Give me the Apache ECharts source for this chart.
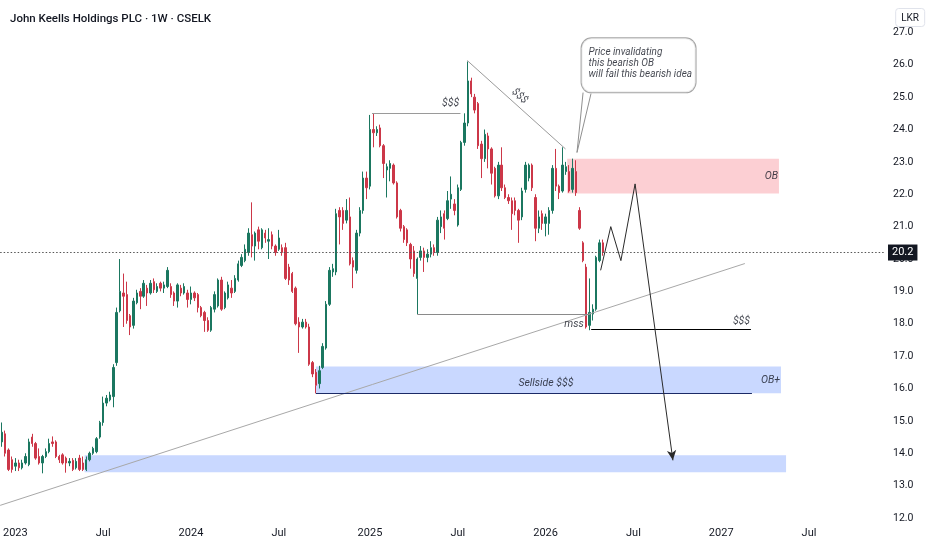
<!DOCTYPE html>
<html>
<head>
<meta charset="utf-8">
<script src="https://cdn.jsdelivr.net/npm/echarts@6/dist/echarts.min.js"></script>
<style>html,body{margin:0;padding:0;background:#fff}#c{width:932px;height:550px}</style>
</head>
<body>
<div id="c"></div>
<script>
// ---------- data ----------
const titleText = 'John Keells Holdings PLC \u00b7 1W \u00b7 CSELK';
const currency = 'LKR';
const firstWeek = Date.UTC(2022, 11, 5);   // first weekly bar (Mon)
const weekCount = 262;                      // bars incl. future space

// weekly candles: [open, close, low, high]
const ohlc = [
[14.35,14.65,14.2,14.95],[14.6,14.0,13.9,14.7],[14.1,13.5,13.45,14.15],[13.8,13.5,13.4,13.9],
[13.6,13.7,13.45,13.85],[13.7,13.55,13.45,13.8],[13.55,13.7,13.5,13.8],[13.7,13.9,13.65,14.0],
[13.65,14.35,13.6,14.45],[14.5,14.3,14.2,14.6],[14.3,13.85,13.8,14.35],[13.9,13.7,13.65,14.15],
[13.7,13.9,13.38,13.95],[13.9,14.05,13.85,14.15],[14.05,14.3,14.0,14.45],[14.35,14.3,14.2,14.52],
[14.35,13.9,13.85,14.4],[13.9,13.8,13.7,13.95],[13.95,13.7,13.65,14.0],[13.85,13.7,13.4,13.9],
[13.7,13.75,13.6,13.85],[13.78,13.5,13.45,13.85],[13.55,13.75,13.5,13.85],[13.85,13.5,13.45,13.95],
[13.7,13.5,13.45,13.9],[13.5,13.8,13.45,13.9],[13.8,14.0,13.75,14.05],[14.0,14.15,13.95,14.2],
[14.05,14.45,14.0,14.5],[14.5,14.95,14.45,15.0],[14.95,15.55,14.85,15.75],[15.55,15.7,15.45,15.8],
[15.65,15.8,15.6,15.9],[15.75,16.65,15.42,16.75],[16.8,18.35,16.7,18.5],[18.4,19.0,18.35,20.0],
[18.95,18.85,17.9,19.55],[18.9,18.1,18.0,19.3],[18.25,17.9,17.65,18.3],[17.95,18.7,17.85,18.8],
[18.65,18.95,18.6,19.05],[19.0,18.85,18.45,19.1],[18.85,19.25,18.8,19.35],[19.1,18.95,18.55,19.2],
[18.95,19.25,18.9,19.35],[19.3,19.05,18.95,19.4],[19.0,19.15,18.95,19.25],[19.25,19.1,19.0,19.3],
[19.1,19.2,18.95,19.3],[19.15,19.65,19.1,19.75],[19.15,18.9,18.8,19.25],[18.95,18.7,18.55,19.0],
[18.7,19.2,18.5,19.25],[19.1,18.95,18.85,19.2],[18.95,19.15,18.9,19.25],[18.95,18.75,18.5,19.05],
[18.75,18.95,18.6,19.15],[18.95,18.8,18.7,19.0],[18.9,18.5,18.35,18.95],[18.5,18.25,18.2,18.55],
[18.35,18.1,17.75,18.4],[18.1,17.8,17.75,18.2],[17.8,18.5,17.75,18.55],[18.45,18.9,18.35,19.0],
[18.55,19.35,18.5,19.4],[19.35,18.45,18.4,19.45],[18.5,18.95,18.45,19.0],[18.8,19.2,18.75,19.3],
[19.1,18.95,18.8,19.35],[19.0,19.4,18.95,19.5],[19.35,19.85,19.3,19.95],[19.8,20.05,19.75,20.15],
[19.95,20.3,19.9,20.45],[20.2,20.8,20.1,20.95],[20.75,20.4,20.05,21.75],[20.4,20.8,19.95,20.85],
[20.9,20.55,20.3,21.0],[20.35,20.9,20.3,20.95],[20.8,20.65,20.5,20.9],[20.55,20.6,20.0,20.95],
[20.75,20.4,20.3,20.85],[20.4,20.2,20.1,20.45],[20.3,20.65,20.25,20.9],[20.35,20.2,20.1,20.45],
[20.35,19.4,19.35,20.5],[19.75,19.35,19.2,19.85],[19.55,19.0,18.95,19.6],[19.1,18.0,17.95,19.15],
[18.05,17.9,17.1,18.2],[17.9,18.05,17.85,18.15],[18.05,17.9,17.85,18.15],[17.9,16.75,16.7,18.0],
[16.8,16.45,16.35,16.85],[16.5,16.1,15.85,16.6],[16.15,16.55,16.0,16.7],[16.65,17.3,16.6,17.4],
[17.25,18.6,17.2,18.7],[18.6,19.65,18.55,19.75],[19.6,19.7,19.45,19.85],[19.6,21.4,19.5,21.55],
[21.5,21.3,20.45,21.6],[21.5,21.1,20.9,21.6],[21.2,21.5,21.1,21.85],[21.3,19.85,19.8,21.9],
[19.95,19.75,19.1,20.05],[19.65,20.8,19.55,20.9],[20.8,21.5,20.7,21.6],[21.5,22.5,21.4,22.7],
[22.5,22.2,21.85,22.7],[22.25,24.0,22.15,24.45],[24.0,23.9,23.45,24.5],[23.9,24.0,23.8,24.1],
[24.05,23.5,23.45,24.15],[23.5,22.95,22.5,23.55],[22.75,22.85,21.9,22.95],[22.8,22.95,22.4,23.05],
[22.9,22.35,22.3,22.95],[22.35,21.3,21.25,22.4],[21.5,20.95,20.85,21.55],[21.0,20.6,20.5,21.05],
[20.9,20.5,20.4,20.95],[20.45,20.0,19.7,20.5],[20.25,19.55,19.45,20.4],[19.4,20.0,18.3,20.05],
[20.05,20.25,19.95,20.4],[20.25,20.05,19.6,20.35],[20.05,20.15,19.9,20.3],[20.15,20.35,20.05,20.55],
[20.35,20.2,20.1,20.45],[20.2,21.2,20.1,21.3],[21.0,21.3,20.8,21.5],[21.4,20.95,20.6,21.5],
[21.25,21.8,21.2,22.1],[21.85,22.0,21.55,22.55],[21.7,21.5,21.35,21.85],[21.05,22.2,21.0,22.3],
[22.15,23.6,22.1,23.65],[23.6,24.2,23.5,24.5],[24.2,25.5,24.1,26.1],[25.5,25.1,25.0,25.6],
[25.0,24.6,24.5,25.1],[24.8,23.5,23.4,24.85],[23.55,23.1,22.5,23.65],[23.1,23.85,23.0,24.0],
[23.8,23.4,22.8,23.9],[23.4,22.65,22.3,23.45],[22.8,21.95,21.9,22.85],[21.95,22.9,21.85,23.0],
[22.9,22.2,22.1,23.45],[22.2,21.9,21.85,22.3],[21.9,21.8,21.7,22.0],[21.8,21.4,20.9,21.9],
[21.8,21.5,21.35,21.9],[21.5,21.2,20.5,21.55],[21.3,22.1,21.2,22.2],[22.15,22.9,22.05,23.0],
[22.5,22.9,22.4,22.95],[22.9,22.2,22.1,22.95],[21.9,20.95,20.55,22.0],[20.95,21.3,20.8,21.5],
[21.4,21.1,20.9,21.5],[21.1,21.3,20.7,21.4],[21.1,21.5,20.75,21.6],[21.5,22.8,21.4,22.9],
[22.8,22.25,22.1,23.4],[22.25,22.05,21.85,22.3],[22.1,22.9,22.05,23.45],[22.7,22.85,22.6,23.0],
[22.7,22.1,22.05,22.9],[22.15,22.8,22.05,23.1],[22.7,22.05,21.95,23.05],[21.5,20.95,20.9,21.6],
[20.5,19.95,19.9,20.55],[19.75,17.9,17.85,19.85],[17.95,18.35,17.8,19.4],[18.3,18.45,18.1,18.6],
[18.45,20.05,18.4,20.1],[19.95,20.5,19.9,20.6],[20.5,20.2,20.1,20.6]
];
const lastPrice = 20.2;

// drawings, as [week index, price]
const trendLine    = [[-0.5, 12.39], [220.0, 19.86]];
const upperLiq     = [[109.6, 24.49], [135.8, 24.49]];
const diagLine     = [[137.8, 26.13], [166.9, 23.40]];
const lowerGray    = [[123.0, 18.29], [174.2, 18.29]];
const mssLevel     = [[174.5, 17.82], [221.8, 17.82]];
const sellsideLine = [[93.0, 15.85], [222.1, 15.85]];
const zigzag       = [[177.3, 19.65], [180.3, 21.0], [183.3, 19.95], [187.5, 22.32], [198.7, 13.78]];
const obZone       = [[167.4, 22.02], [230.1, 23.10]];
const obPlusZone   = [[93.0, 15.85], [230.7, 16.68]];
const demandZone   = [[24.5, 13.41], [232.2, 13.94]];
const noteTexts    = ['$$$', '$$$', 'mss', '$$$', 'Sellside $$$', 'OB', 'OB+'];
const notePoints   = [[132.9, 24.80], [153.3, 25.03], [169.4, 17.99], [219.0, 18.07], [161.1, 16.16], [227.9, 22.55], [227.6, 16.25]];
const noteRotation = [0, -42, 0, 0, 0, 0, 0];
const calloutText  = 'Price invalidating\nthis bearish OB\nwill fail this bearish idea';
const calloutPoint = [171.8, 26.80];
const calloutTail  = [[172.1, 25.14], [170.3, 23.29], [174.45, 25.11]];

// ---------- chart ----------
const FONT = "Roboto,'Liberation Sans',sans-serif";
const INK = '#131722';
const UP = '#1b7760', DOWN = '#cc3748';
const PINK = 'rgba(242,54,69,0.24)', BLUE = 'rgba(41,98,255,0.25)';

function pad(n){ return n < 10 ? '0' + n : '' + n; }
const categories = [];
for (let i = 0; i < weekCount; i++) {
  const d = new Date(firstWeek + i * 7 * 86400000);
  categories.push(d.getUTCFullYear() + '-' + pad(d.getUTCMonth() + 1) + '-' + pad(d.getUTCDate()));
}
function isPeriodStart(v){ const m = +v.slice(5,7), d = +v.slice(8,10); return (m === 1 || m === 7) && d <= 7; }

function seg(a, b, style, endSymbol){
  return [
    {coord: a, lineStyle: style, symbol: 'none'},
    {coord: b, lineStyle: style, symbol: endSymbol || 'none', symbolSize: endSymbol ? [7, 10] : 0}
  ];
}
const gray = {color: '#9a9a9a', width: 1, type: 'solid'};
const dark = {color: '#2a2a2a', width: 1, type: 'solid'};
const lineData = [
  seg(trendLine[0], trendLine[1], {color: '#a8a8a8', width: 1, type: 'solid'}),
  seg(upperLiq[0], upperLiq[1], gray),
  seg(diagLine[0], diagLine[1], gray),
  seg(lowerGray[0], lowerGray[1], {color: '#8a8a8a', width: 1, type: 'solid'}),
  seg(mssLevel[0], mssLevel[1], {color: '#000', width: 1.2, type: 'solid'}),
  seg(sellsideLine[0], sellsideLine[1], {color: '#1b2a66', width: 1.2, type: 'solid'})
];
for (let i = 0; i < zigzag.length - 1; i++) {
  lineData.push(seg(zigzag[i], zigzag[i + 1], dark, i === zigzag.length - 2 ? 'arrow' : null));
}
lineData.push({
  yAxis: lastPrice,
  symbol: 'none',
  lineStyle: {color: '#555', width: 1, type: [1.5, 2]},
  label: {show: true, position: 'end', distance: 3, formatter: () => lastPrice.toFixed(1),
          backgroundColor: INK, color: '#fff', padding: [3, 4, 2, 4], fontSize: 11, fontFamily: FONT}
});

const zoneStyle = c => ({color: c, borderWidth: 0});
const chart = echarts.init(document.getElementById('c'));
chart.setOption({
  animation: false,
  backgroundColor: '#fff',
  title: [
    {text: titleText, left: 5, top: 8, textStyle: {fontSize: 11.5, fontWeight: 500, color: INK, fontFamily: FONT}},
    {text: currency, right: 7, top: 8, padding: [5, 6, 4, 6], backgroundColor: '#fff', borderColor: '#e0e3eb',
     borderWidth: 1, borderRadius: 3, textStyle: {fontSize: 10, fontWeight: 'normal', color: INK, fontFamily: FONT}}
  ],
  grid: {left: 0, right: 47, top: -1, bottom: 32},
  xAxis: [
    {type: 'category', data: categories, boundaryGap: true,
     axisLine: {show: false}, axisTick: {show: false}, splitLine: {show: false},
     axisLabel: {interval: (i, v) => isPeriodStart(v), formatter: v => v.slice(5,7) === '01' ? v.slice(0,4) : 'Jul',
                 color: INK, fontSize: 11, margin: 10, fontFamily: FONT, hideOverlap: false}},
    {type: 'value', min: -0.5, max: weekCount - 0.5, show: false}
  ],
  yAxis: {type: 'value', position: 'right', min: 12, max: 28, interval: 1,
          splitLine: {show: false}, axisLine: {show: false}, axisTick: {show: false},
          axisLabel: {formatter: v => v >= 28 ? '' : v.toFixed(1), color: INK, fontSize: 10.5, margin: 8, fontFamily: FONT}},
  series: [
    {type: 'line', xAxisIndex: 1, data: [], z: 1, silent: true,
     markArea: {silent: true, data: [
       [{coord: obZone[0], itemStyle: zoneStyle(PINK)}, {coord: obZone[1]}],
       [{coord: obPlusZone[0], itemStyle: zoneStyle(BLUE)}, {coord: obPlusZone[1]}],
       [{coord: demandZone[0], itemStyle: zoneStyle(BLUE)}, {coord: demandZone[1]}]
     ]}},
    {type: 'candlestick', xAxisIndex: 0, data: ohlc, z: 3, barWidth: 1.9,
     itemStyle: {color: UP, color0: DOWN, borderColor: UP, borderColor0: DOWN, borderWidth: 1}},
    {type: 'line', xAxisIndex: 1, data: [], z: 4, silent: true,
     markLine: {silent: true, symbol: ['none', 'none'], label: {show: false}, data: lineData}},
    {type: 'line', xAxisIndex: 1, data: calloutTail, z: 5, silent: true, symbol: 'none',
     lineStyle: {color: '#8f8f8f', width: 1}},
    {type: 'scatter', xAxisIndex: 1, z: 6, silent: true, symbolSize: 1, itemStyle: {color: 'rgba(0,0,0,0)'},
     data: [{value: calloutPoint, label: {show: true, position: [0, 0], formatter: () => calloutText,
       backgroundColor: '#fff', borderColor: '#8f8f8f', borderWidth: 1, borderRadius: 10,
       padding: [9, 7, 12, 7], width: 100, lineHeight: 11, fontSize: 10, fontStyle: 'italic', color: INK, fontFamily: FONT}}]},
    {type: 'scatter', xAxisIndex: 1, z: 6, silent: true, symbolSize: 1, itemStyle: {color: 'rgba(0,0,0,0)'},
     label: {show: true, position: 'inside', formatter: p => p.name, fontSize: 10.5, fontStyle: 'italic', color: INK, fontFamily: FONT},
     data: noteTexts.map((t, i) => ({name: t, value: notePoints[i], label: {rotate: noteRotation[i]}}))}
  ]
});
</script>
</body>
</html>
